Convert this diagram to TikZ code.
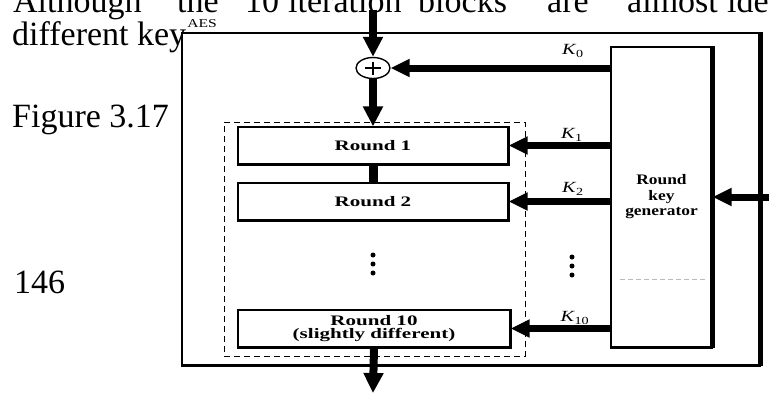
\documentclass[tikz,border=0pt]{standalone}
\usepackage{fontspec}
\setmainfont{Liberation Serif}
\usepackage{graphicx}
\usetikzlibrary{arrows.meta,shapes.geometric}
\newcommand{\hs}[1]{\scalebox{1.45}[1]{#1}}
\newcommand{\hk}[1]{\scalebox{1.2}[1]{#1}}
\newcommand{\kk}[1]{\scalebox{1.3}[1]{\textit{K}\textsubscript{\kern-0.3pt#1}}}
\begin{document}
\begin{tikzpicture}[x=1pt,y=-1pt,
  body/.style={anchor=base west,inner sep=0pt,font=\fontsize{34}{34}\selectfont},
  rbox/.style={draw,line width=1.2pt,minimum width=270pt,minimum height=37pt,inner sep=0pt,
    font=\fontsize{14.5}{14.5}\selectfont\bfseries,align=center},
  hkey/.style={line width=7pt,-{Triangle[length=19pt,width=17pt]}},
  vkey/.style={line width=8pt,-{Triangle[length=20pt,width=19pt]}},
  klabel/.style={font=\fontsize{15.5}{15.5}\selectfont,inner sep=0pt},
  dotmark/.style={fill=black,circle,inner sep=0pt,minimum size=5pt},
  shade/.style={line width=2.6pt}
]
\useasboundingbox (0,0) rectangle (769,394);

% body text of the page
\node[body] (w1) at (13,12) {Although};
\node[body] (w2) at (177,12) {the};
\node[body] (w3) at (245,12) {10};
\node[body] (w4) at (288,12) {iteration};
\node[body] (w5) at (418,12) {blocks};
\node[body] (w6) at (547,12) {are};
\node[body] (w7) at (627,12) {almost};
\node[body] (w8) at (727,12) {ident};
\node[body] (l2) at (12,45) {different key};
\node[body] (fig) at (12,127) {Figure 3.17};
\node[body] (pg) at (14,293) {146};

% outer AES box
\node[draw,line width=1.2pt,minimum width=578pt,minimum height=332pt,inner sep=0pt] (aes) at (471,199) {};
\draw[line width=4.5pt] (aes.north east) -- (aes.south east);
\draw[line width=2pt] (aes.south west) -- (aes.south east);
\node[inner sep=0pt,font=\fontsize{12}{12}\selectfont] (aeslab) at (202,24) {\scalebox{1.3}[1]{AES}};

% inner dashed box
\node[draw,dashed,dash pattern=on 6pt off 4pt,line width=1pt,minimum width=301pt,minimum height=234pt,inner sep=0pt] (inner) at (374.5,239) {};

% rounds
\node[rbox] (r1) at (373,145.5) {\hs{Round 1}};
\node[rbox] (r2) at (373,201.5) {\hs{Round 2}};
\node[rbox,minimum width=272pt] (r10) at (374,328.5) {\hs{Round 10}\\[-1pt]\hs{(slightly different)}};
\foreach \r in {r1,r2,r10}{
  \draw[shade] (\r.north east) -- (\r.south east) -- (\r.south west);
}

% key generator
\node[draw,line width=1.2pt,minimum width=101pt,minimum height=300pt,inner sep=0pt,
  font=\fontsize{14.5}{15.5}\selectfont\bfseries,align=center] (kg) at (661.5,197)
  {\hk{Round}\\\hk{key}\\\hk{generator}};
\draw[line width=4.5pt] (kg.north east) -- (kg.south east);
\draw[line width=2pt] (kg.south west) -- (kg.south east);
\draw[gray!55,line width=0.8pt,dash pattern=on 5pt off 3pt] (620,279) -- (705,279);

% xor
\node[ellipse,draw,line width=1.4pt,minimum width=34pt,minimum height=21pt,inner sep=0pt] (xor) at (373,68) {};
\draw[line width=1.3pt] ([xshift=-8pt]xor.center) -- ([xshift=8pt]xor.center);
\draw[line width=1.3pt] ([yshift=-6.5pt]xor.center) -- ([yshift=6.5pt]xor.center);

% data path
\coordinate (in) at (373,10);
\coordinate (out) at (373,393);
\draw[vkey] (in) -- (xor.north);
\draw[vkey] (xor.south) -- (r1.north);
\draw[line width=9pt] (r1.south) -- (r2.north);
\draw[vkey] (r10.south) -- (out);

% round keys
\draw[hkey] (kg.west |- xor.east) -- (xor.east);
\draw[hkey] (kg.west |- r1.east) -- (r1.east);
\draw[hkey] (kg.west |- r2.east) -- (r2.east);
\draw[hkey] (kg.west |- r10.east) -- (r10.east);
\coordinate (kin) at (769,197);
\draw[hkey] (kin) -- (kg.east);

\node[klabel] (k0) at (573,51) {\kk{0}};
\node[klabel] (k1) at (572,135) {\kk{1}};
\node[klabel] (k2) at (573,189) {\kk{2}};
\node[klabel] (k10) at (575,318) {\kk{10}};

% ellipses
\node[dotmark] (d1) at (373,255) {};
\node[dotmark] (d2) at (373,264) {};
\node[dotmark] (d3) at (373,273) {};
\node[dotmark] (e1) at (572,257) {};
\node[dotmark] (e2) at (572,266) {};
\node[dotmark] (e3) at (572,275) {};
\end{tikzpicture}
\end{document}
